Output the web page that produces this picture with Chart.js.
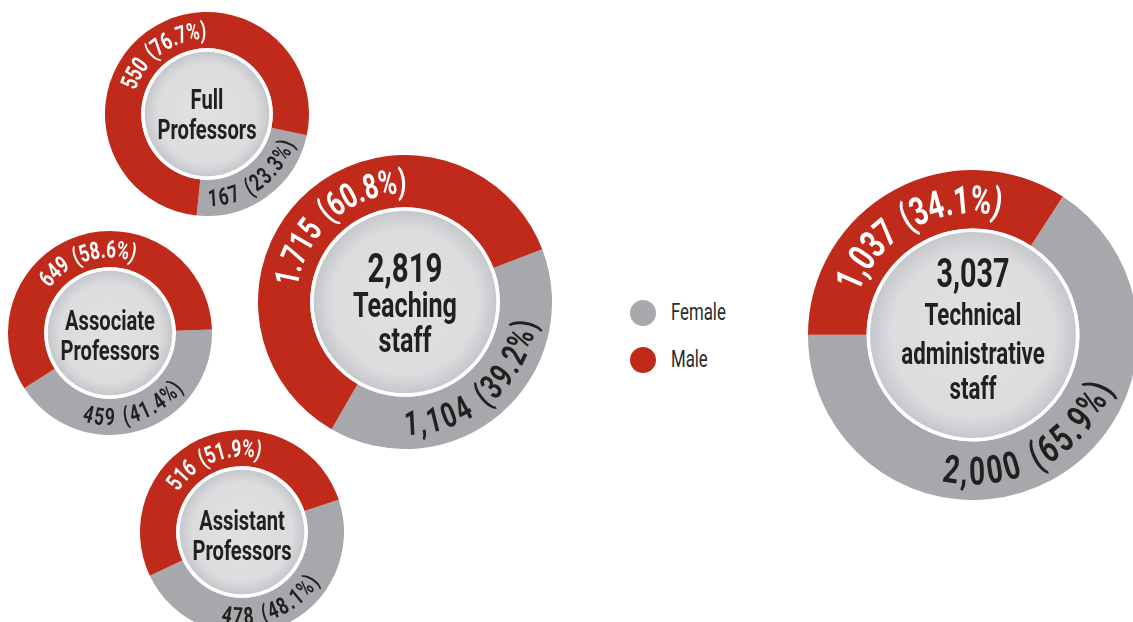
<!DOCTYPE html>
<html>
<head>
<meta charset="utf-8">
<script src="https://cdn.jsdelivr.net/npm/chart.js@4"></script>
<style>
  html, body { margin: 0; padding: 0; background: #fff; }
  body { width: 1133px; height: 622px; overflow: hidden; position: relative; font-family: Roboto, "DejaVu Sans", sans-serif; }
  canvas.ring { position: absolute; }
  .leg { position: absolute; left: 630px; height: 26px; }
  .leg .dot { position: absolute; left: 0; top: 0; width: 26px; height: 26px; border-radius: 50%; }
  .leg .lt { position: absolute; left: 41px; top: -2px; font-size: 23px; line-height: 30px; color: #2b2b2b;
             transform: scaleX(0.73); transform-origin: left center; white-space: nowrap; }
</style>
</head>
<body>
<script>
// data
var groups = ["Full\nProfessors", "Associate\nProfessors", "Assistant\nProfessors", "Teaching\nstaff", "Technical\nadministrative\nstaff"];
var female = [167, 459, 478, 1104, 2000];
var male = [550, 649, 516, 1715, 1037];
var seriesNames = ["Female", "Male"];

var GRAY = "#a7a8ab";
var RED = "#c02a1a";
var DARK = "#231f20";
var SX = 0.72; // condensed look

// where each ring sits and how its text is set
var layout = [
  { cx: 207, cy: 114, r: 102, rot: 102, font: 28, big: 0, lines: [-15, 15] },
  { cx: 110, cy: 333, r: 102, rot: 88, font: 28, big: 0, lines: [-13, 17] },
  { cx: 242, cy: 532, r: 102, rot: 71.5, font: 28, big: 0, lines: [-12, 18] },
  { cx: 405, cy: 302, r: 147, rot: 69, font: 35, big: 41, lines: [-35, 3, 38], maleSep: "." },
  { cx: 973, cy: 335, r: 165, rot: 33, font: 31, big: 40, lines: [-62, -21, 18, 53] }
];

function fmt(v, sep) {
  return String(v).replace(/\B(?=(\d{3})+(?!\d))/g, sep || ",");
}

function curvedText(ctx, text, cx, cy, r, mid, size, color) {
  var top = Math.sin(mid) < 0;
  ctx.font = "bold " + size + "px Roboto";
  var track = size * 0.035;
  var widths = [], total = 0;
  for (var i = 0; i < text.length; i++) {
    var w = text[i] === " " ? size * 0.3 : ctx.measureText(text[i]).width * SX + track;
    widths.push(w);
    total += w;
  }
  var cap = size * 0.71;
  var rb = top ? r - cap / 2 : r + cap / 2;
  var a = top ? mid - total / r / 2 : mid + total / r / 2;
  ctx.fillStyle = color;
  ctx.textAlign = "center";
  ctx.textBaseline = "alphabetic";
  for (var j = 0; j < text.length; j++) {
    var half = widths[j] / 2 / r;
    a += top ? half : -half;
    ctx.save();
    ctx.translate(cx + rb * Math.cos(a), cy + rb * Math.sin(a));
    ctx.rotate(top ? a + Math.PI / 2 : a - Math.PI / 2);
    ctx.scale(SX, 1);
    ctx.fillText(text[j], 0, 0);
    ctx.restore();
    a += top ? half : -half;
  }
}

var ringText = {
  id: "ringText",
  afterDatasetsDraw: function (chart) {
    var ctx = chart.ctx;
    var k = chart.options.plugins.ringText;
    var arcs = chart.getDatasetMeta(0).data;
    var cx = arcs[0].x, cy = arcs[0].y;
    var rIn = arcs[0].innerRadius, rOut = arcs[0].outerRadius;

    // inner disk with white rim
    ctx.save();
    ctx.beginPath();
    ctx.arc(cx, cy, rIn, 0, Math.PI * 2);
    ctx.fillStyle = "#fff";
    ctx.fill();
    var g = ctx.createRadialGradient(cx, cy, 0, cx, cy, rIn - 3.5);
    g.addColorStop(0, "#e0e1e3");
    g.addColorStop(0.8, "#dbdcde");
    g.addColorStop(1, "#c6c7ca");
    ctx.beginPath();
    ctx.arc(cx, cy, rIn - 3.5, 0, Math.PI * 2);
    ctx.fillStyle = g;
    ctx.fill();

    // centre title
    var L = k.layout;
    var lines = k.title.split("\n");
    if (L.big) lines.unshift(fmt(k.total));
    ctx.fillStyle = DARK;
    ctx.textAlign = "center";
    ctx.textBaseline = "alphabetic";
    lines.forEach(function (t, i) {
      var size = (L.big && i === 0) ? L.big : L.font;
      ctx.font = "bold " + size + "px Roboto";
      ctx.save();
      ctx.translate(cx, cy + L.lines[i] + size * 0.355);
      ctx.scale(SX, 1);
      ctx.fillText(t, 0, 0);
      ctx.restore();
    });

    // value labels bent along the ring
    var rMid = (rIn + rOut) / 2;
    var size = rOut * 0.235;
    arcs.forEach(function (arc, i) {
      var v = chart.data.datasets[0].data[i];
      var sep = (i === 1 && L.maleSep) ? L.maleSep : ",";
      var txt = fmt(v, sep) + " (" + (v / k.total * 100).toFixed(1) + "%)";
      var mid = (arc.startAngle + arc.endAngle) / 2;
      curvedText(ctx, txt, cx, cy, rMid, mid, size, i === 1 ? "#fff" : DARK);
    });
    ctx.restore();
  }
};

layout.forEach(function (L, i) {
  var c = document.createElement("canvas");
  c.className = "ring";
  c.width = L.r * 2;
  c.height = L.r * 2;
  c.style.left = (L.cx - L.r) + "px";
  c.style.top = (L.cy - L.r) + "px";
  document.body.appendChild(c);
  new Chart(c, {
    type: "doughnut",
    data: {
      labels: seriesNames,
      datasets: [{
        data: [female[i], male[i]],
        backgroundColor: [GRAY, RED],
        borderWidth: 0,
        hoverOffset: 0
      }]
    },
    options: {
      responsive: false,
      animation: false,
      events: [],
      rotation: L.rot,
      cutout: "64.5%",
      layout: { padding: 0 },
      plugins: {
        legend: { display: false },
        tooltip: { enabled: false },
        ringText: { layout: L, title: groups[i], total: female[i] + male[i] }
      }
    },
    plugins: [ringText]
  });
});

// legend
[GRAY, RED].forEach(function (col, i) {
  var d = document.createElement("div");
  d.className = "leg";
  d.style.top = (300 + i * 47) + "px";
  d.innerHTML = '<span class="dot" style="background:' + col + '"></span><span class="lt">' + seriesNames[i] + '</span>';
  document.body.appendChild(d);
});
</script>
</body>
</html>
